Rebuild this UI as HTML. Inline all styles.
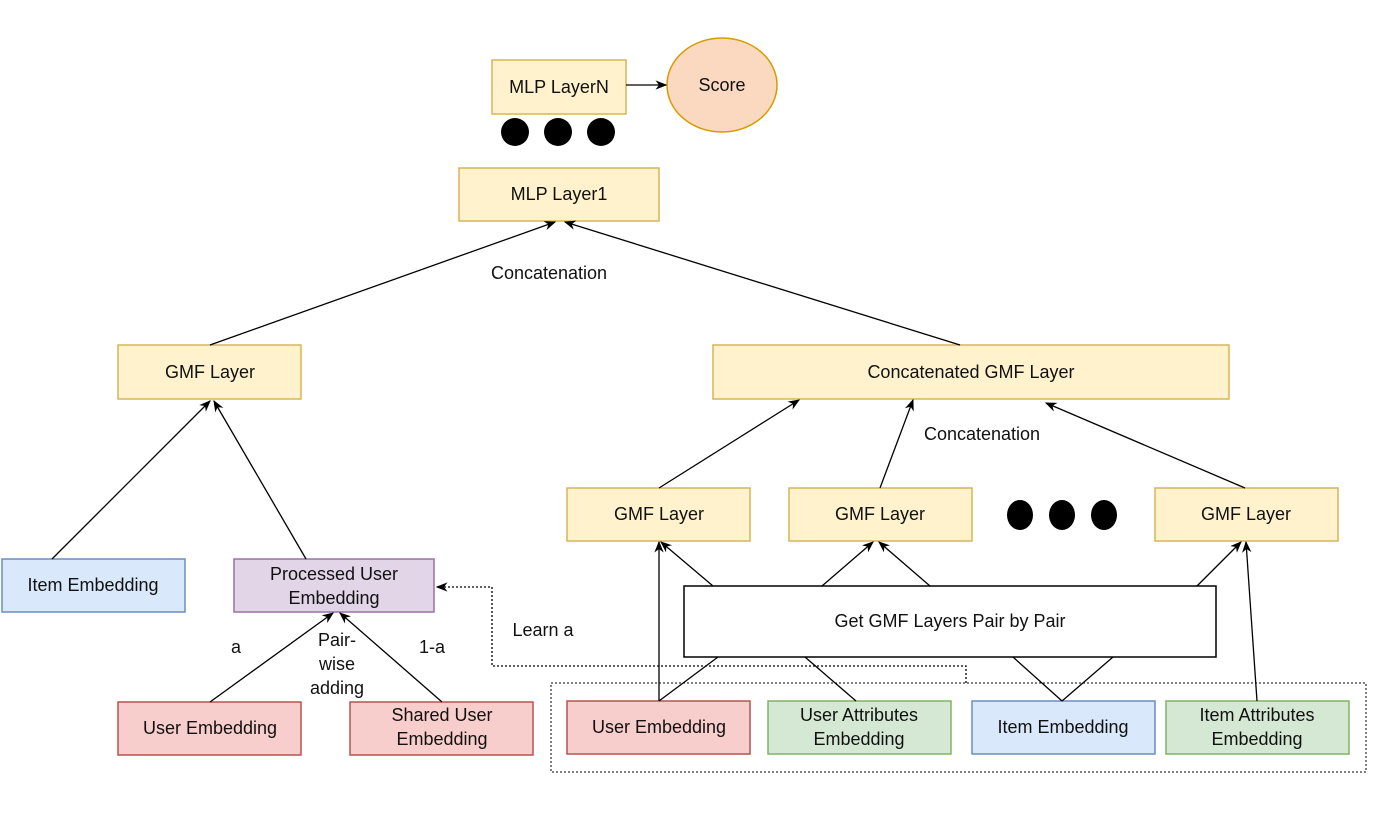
<!DOCTYPE html>
<html><head><meta charset="utf-8"><style>
html,body{margin:0;padding:0;background:#fff}
svg text{font-family:"Liberation Sans",sans-serif;font-size:18px;fill:#111}
</style></head><body>
<svg width="1374" height="818" viewBox="0 0 1374 818" xmlns="http://www.w3.org/2000/svg">
<defs><marker id="a" viewBox="0 0 10 10" refX="9" refY="5" markerWidth="9" markerHeight="9" orient="auto"><path d="M0,1 L10,5 L0,9 L3,5 z" fill="#000"/></marker></defs>
<g stroke-width="1.5">
<rect x="492" y="60" width="134" height="54" fill="#fff2cc" stroke="#d6b656"/>
<ellipse cx="722" cy="85" rx="55" ry="47" fill="#fad9c0" stroke="#d79b00"/>
<rect x="459" y="168" width="200" height="53" fill="#fff2cc" stroke="#d6b656"/>
<rect x="118" y="345" width="183" height="54" fill="#fff2cc" stroke="#d6b656"/>
<rect x="713" y="345" width="516" height="54" fill="#fff2cc" stroke="#d6b656"/>
<rect x="567" y="488" width="183" height="53" fill="#fff2cc" stroke="#d6b656"/>
<rect x="789" y="488" width="183" height="53" fill="#fff2cc" stroke="#d6b656"/>
<rect x="1155" y="488" width="183" height="53" fill="#fff2cc" stroke="#d6b656"/>
<rect x="2" y="559" width="183" height="53" fill="#dae8fc" stroke="#6c8ebf"/>
<rect x="234" y="559" width="200" height="53" fill="#e1d5e7" stroke="#9673a6"/>
<rect x="118" y="702" width="183" height="53" fill="#f8cecc" stroke="#b85450"/>
<rect x="350" y="702" width="183" height="53" fill="#f8cecc" stroke="#b85450"/>
<rect x="684" y="586" width="532" height="71" fill="#fff" stroke="#000"/>
<rect x="551" y="683" width="815" height="89" fill="none" stroke="#000" stroke-dasharray="2,2" stroke-width="1"/>
<rect x="567" y="701" width="183" height="53" fill="#f8cecc" stroke="#b85450"/>
<rect x="768" y="701" width="183" height="53" fill="#d5e8d4" stroke="#82b366"/>
<rect x="972" y="701" width="183" height="53" fill="#dae8fc" stroke="#6c8ebf"/>
<rect x="1166" y="701" width="183" height="53" fill="#d5e8d4" stroke="#82b366"/>
</g>
<g fill="#000">
<circle cx="515" cy="132" r="14"/><circle cx="558" cy="132" r="14"/><circle cx="601" cy="132" r="14"/>
<ellipse cx="1020" cy="515" rx="13" ry="15"/><ellipse cx="1062" cy="515" rx="13" ry="15"/><ellipse cx="1104" cy="515" rx="13" ry="15"/>
</g>
<g stroke="#000" stroke-width="1.3" fill="none" marker-end="url(#a)">
<line x1="626" y1="85" x2="666" y2="85"/>
<line x1="210" y1="345" x2="555" y2="222"/>
<line x1="960" y1="345" x2="565" y2="222"/>
<line x1="52" y1="559" x2="210" y2="401"/>
<line x1="306" y1="559" x2="214" y2="401"/>
<line x1="210" y1="702" x2="333" y2="613"/>
<line x1="442" y1="702" x2="340" y2="613"/>
<line x1="659" y1="488" x2="799" y2="400"/>
<line x1="880" y1="488" x2="913" y2="400"/>
<line x1="1245" y1="488" x2="1046" y2="403"/>
<line x1="713" y1="586" x2="661" y2="542"/>
<line x1="822" y1="586" x2="873" y2="542"/>
<line x1="930" y1="586" x2="879" y2="542"/>
<line x1="1197" y1="586" x2="1241" y2="542"/>
<line x1="659" y1="701" x2="659" y2="542"/>
<line x1="1257" y1="701" x2="1246" y2="542"/>
</g>
<g stroke="#000" stroke-width="1.3" fill="none">
<line x1="659" y1="701" x2="718" y2="657"/>
<line x1="856" y1="701" x2="805" y2="657"/>
<line x1="1062" y1="701" x2="1013" y2="657"/>
<line x1="1062" y1="701" x2="1113" y2="657"/>
<polyline points="966,683 966,666 492,666 492,587 437,587" stroke-dasharray="2,2" marker-end="url(#a)"/>
</g>
<g text-anchor="middle">
<text x="559" y="93">MLP LayerN</text>
<text x="722" y="91">Score</text>
<text x="559" y="200">MLP Layer1</text>
<text x="549" y="279">Concatenation</text>
<text x="210" y="378">GMF Layer</text>
<text x="971" y="378">Concatenated GMF Layer</text>
<text x="982" y="440">Concatenation</text>
<text x="659" y="520">GMF Layer</text>
<text x="880" y="520">GMF Layer</text>
<text x="1246" y="520">GMF Layer</text>
<text x="93" y="591">Item Embedding</text>
<text x="334" y="580">Processed User</text>
<text x="334" y="604">Embedding</text>
<text x="543" y="636">Learn a</text>
<text x="950" y="627">Get GMF Layers Pair by Pair</text>
<text x="236" y="653">a</text>
<text x="432" y="653">1-a</text>
<text x="337" y="646">Pair-</text>
<text x="337" y="670">wise</text>
<text x="337" y="694">adding</text>
<text x="210" y="734">User Embedding</text>
<text x="442" y="721">Shared User</text>
<text x="442" y="745">Embedding</text>
<text x="659" y="733">User Embedding</text>
<text x="859" y="721">User Attributes</text>
<text x="859" y="745">Embedding</text>
<text x="1063" y="733">Item Embedding</text>
<text x="1257" y="721">Item Attributes</text>
<text x="1257" y="745">Embedding</text>
</g>
</svg>
</body></html>
